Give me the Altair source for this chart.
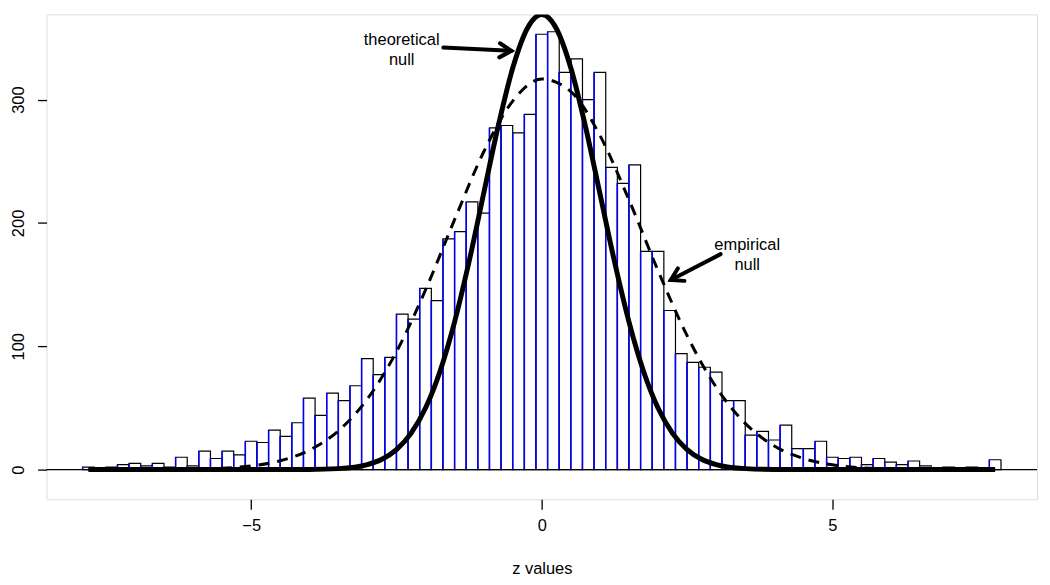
import altair as alt
import pandas as pd

# ---------------- data ----------------
bin_width = 0.2
bin_centers = [round(-7.8 + bin_width * i, 1) for i in range(79)]
counts = [2, 0, 2, 4, 5, 3, 5, 2, 10, 3,
          15, 9, 15, 12, 23, 22, 32, 27, 38, 58,
          44, 62, 56, 68, 90, 77, 91, 126, 122, 147,
          137, 187, 193, 217, 208, 277, 279, 273, 288, 353,
          355, 322, 333, 300, 322, 245, 232, 247, 177, 177,
          129, 94, 87, 83, 79, 56, 56, 28, 31, 24,
          36, 17, 17, 23, 10, 9, 10, 4, 9, 6,
          4, 7, 3, 1, 2, 1, 2, 0, 8]

theo_z = [-7.8, -5, -4, -3.5, -3, -2.75, -2.5, -2.25, -2, -1.75, -1.5, -1.25, -1, -0.75, -0.5, -0.25, 0,
          0.25, 0.5, 0.75, 1, 1.25, 1.5, 1.75, 2, 2.25, 2.5, 2.75, 3, 3.5, 4, 5, 7.8]
theo_y = [0, 0, 0.1, 0.8, 4.1, 8.4, 16.2, 29.4, 49.9, 79.8, 119.8, 168.9, 223.8, 278.5, 325.6, 357.7, 369,
          357.7, 325.6, 278.5, 223.8, 168.9, 119.8, 79.8, 49.9, 29.4, 16.2, 8.4, 4.1, 0.8, 0.1, 0, 0]

emp_z = [-7.8, -6, -5.5, -5, -4.5, -4, -3.5, -3, -2.5, -2, -1.5, -1, -0.5, 0,
         0.5, 1, 1.5, 2, 2.5, 3, 3.5, 4, 4.5, 5, 5.5, 6, 7.8]
emp_y = [0, 0.4, 1.1, 3.0, 7.2, 15.7, 31.4, 57.3, 95.6, 145.7, 202.7, 257.5, 298.8, 316.7,
         306.5, 271, 218.7, 161.3, 108.6, 66.8, 37.5, 19.2, 9.0, 3.9, 1.5, 0.5, 0]

x_ticks = [-5, 0, 5]
y_ticks = [0, 100, 200, 300]

# annotations (label, x, y)
ann_text = ["theoretical", "null", "empirical", "null"]
ann_x = [-2.41, -2.41, 3.534, 3.534]
ann_y = [348.6, 332.0, 182.0, 165.8]

arrow_x1 = [-1.693, 3.076]
arrow_y1 = [342.2, 174.7]
arrow_x2 = [-0.523, 2.219]
arrow_y2 = [339.5, 153.7]
arrow_angle = [2.8, 152.5]

FONT = "Liberation Sans"
FS = 16.5

# ---------------- tables ----------------
hist = pd.DataFrame({
    "center": bin_centers,
    "count": counts,
})
hist["start"] = hist["center"] - bin_width / 2
hist["end"] = hist["center"] + bin_width / 2
hist = hist[hist["count"] > 0]

theo = pd.DataFrame({"z": theo_z, "y": theo_y})
emp = pd.DataFrame({"z": emp_z, "y": emp_y})
ann = pd.DataFrame({"t": ann_text, "x": ann_x, "y": ann_y})
arr = pd.DataFrame({"x1": arrow_x1, "y1": arrow_y1, "x2": arrow_x2, "y2": arrow_y2, "a": arrow_angle})

xscale = alt.Scale(domain=[-8.52, 8.52], nice=False, zero=False)
yscale = alt.Scale(domain=[-24.0, 369.1], nice=False, zero=False)

xax = alt.Axis(values=x_ticks, format="d", title="z values", grid=False, domain=False,
               tickSize=10, tickWidth=1.3, tickColor="black",
               labelFont=FONT, labelFontSize=FS, labelColor="black", labelPadding=8,
               titleFont=FONT, titleFontSize=FS, titleFontWeight="normal", titleColor="black",
               titlePadding=27)
yax = alt.Axis(values=y_ticks, format="d", title=None, grid=False, domain=False,
               tickSize=9, tickWidth=1.3, tickColor="black",
               labelFont=FONT, labelFontSize=FS, labelColor="black",
               labelAngle=270, labelAlign="center", labelBaseline="bottom", labelPadding=11)

base_x = alt.X("start:Q", scale=xscale, axis=xax)

bars = alt.Chart(hist).mark_rect(fill="white", stroke="black", strokeWidth=1.2).encode(
    x=base_x,
    x2="end:Q",
    y=alt.Y("count:Q", scale=yscale, axis=yax),
    y2=alt.datum(0),
)

edges = alt.Chart(hist).mark_rule(color="#0000ff", strokeWidth=1.5).encode(
    x=alt.X("start:Q", scale=xscale),
    y=alt.Y("count:Q", scale=yscale),
    y2=alt.datum(0),
)

zero = alt.Chart(pd.DataFrame({"y": [0]})).mark_rule(color="black", strokeWidth=1.2).encode(
    y=alt.Y("y:Q", scale=yscale)
)

emp_line = alt.Chart(emp).mark_line(color="black", strokeWidth=3, strokeDash=[11, 8],
                                    interpolate="monotone").encode(
    x=alt.X("z:Q", scale=xscale),
    y=alt.Y("y:Q", scale=yscale),
)

theo_line = alt.Chart(theo).mark_line(color="black", strokeWidth=5, interpolate="monotone",
                                      clip=True).encode(
    x=alt.X("z:Q", scale=xscale),
    y=alt.Y("y:Q", scale=yscale),
)

arrow_lines = alt.Chart(arr).mark_rule(color="black", strokeWidth=4, strokeCap="round").encode(
    x=alt.X("x1:Q", scale=xscale),
    y=alt.Y("y1:Q", scale=yscale),
    x2="x2:Q",
    y2="y2:Q",
)

arrow_heads = alt.Chart(arr).mark_point(
    shape="M-1,-0.6L0,0L-1,0.6", filled=False, stroke="black", strokeWidth=4,
    size=560, strokeCap="round", strokeJoin="miter", opacity=1
).encode(
    x=alt.X("x2:Q", scale=xscale),
    y=alt.Y("y2:Q", scale=yscale),
    angle=alt.Angle("a:Q", scale=None),
)

labels = alt.Chart(ann).mark_text(font=FONT, fontSize=FS, color="black",
                                  align="center", baseline="middle").encode(
    x=alt.X("x:Q", scale=xscale),
    y=alt.Y("y:Q", scale=yscale),
    text="t:N",
)

chart = alt.layer(bars, edges, zero, emp_line, theo_line, arrow_lines, arrow_heads, labels).properties(
    width=994.3,
    height=486.7,
    padding={"left": 38.7, "top": 5.3, "right": 5, "bottom": 80},
    autosize=alt.AutoSizeParams(type="none"),
).configure_view(
    stroke="black", strokeWidth=1.5
).configure(background="white")

chart.save("out.html", embed_options={"renderer": "svg", "actions": False})
